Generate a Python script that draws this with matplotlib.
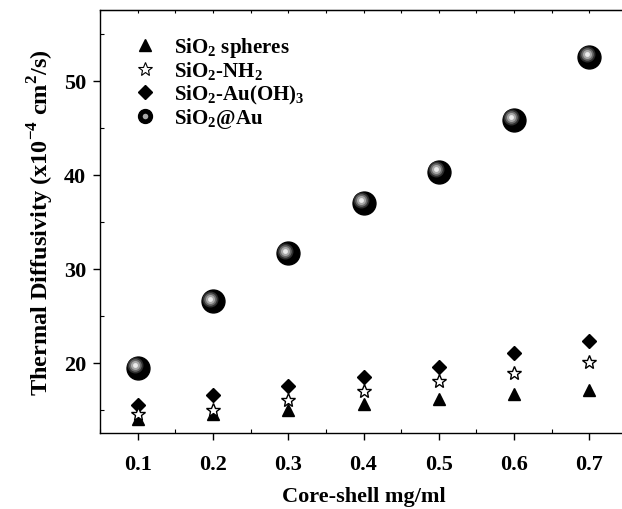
import matplotlib
matplotlib.use('Agg')
import matplotlib.pyplot as plt
import matplotlib.transforms as mtransforms
from matplotlib.ticker import MultipleLocator, FormatStrFormatter
from matplotlib.legend_handler import HandlerTuple
from matplotlib.lines import Line2D

plt.rcParams['font.family'] = 'Liberation Serif'
plt.rcParams['font.weight'] = 'bold'
plt.rcParams['mathtext.fontset'] = 'custom'
plt.rcParams['mathtext.rm'] = 'Liberation Serif:bold'
plt.rcParams['mathtext.bf'] = 'Liberation Serif:bold'

# data
conc = [0.1, 0.2, 0.3, 0.4, 0.5, 0.6, 0.7]
sio2_spheres = [14.0, 14.5, 15.0, 15.6, 16.1, 16.6, 17.1]
sio2_nh2 = [14.5, 15.0, 16.0, 17.0, 18.0, 18.9, 20.1]
sio2_auoh3 = [15.5, 16.5, 17.5, 18.5, 19.5, 21.0, 22.3]
sio2_au = [19.4, 26.5, 31.6, 37.0, 40.3, 45.8, 52.5]

labels = [r'SiO$_2$ spheres', r'SiO$_2$-NH$_2$', r'SiO$_2$-Au(OH)$_3$', r'SiO$_2$@Au']

fig = plt.figure(figsize=(6.22, 5.10), dpi=100)
ax = fig.add_axes([100 / 622, 76 / 510, 527 / 622, 423 / 510])

ax.plot(conc, sio2_spheres, '^', color='black', markersize=9, linestyle='none', zorder=3)
ax.plot(conc, sio2_nh2, '*', markerfacecolor='white', markeredgecolor='black',
        markeredgewidth=1.0, markersize=10, linestyle='none', zorder=4)
ax.plot(conc, sio2_auoh3, 'D', color='black', markersize=7, linestyle='none', zorder=3)

# shiny spheres: black ball with layered highlight
ax.plot(conc, sio2_au, 'o', color='black', markersize=16.5, linestyle='none', zorder=5)
hl = mtransforms.offset_copy(ax.transData, fig=fig, x=-2.0, y=2.0, units='points')
for ms, c, z in [(11.5, '#2e2e2e', 6), (9, '#6a6a6a', 7), (6.5, '#a8a8a8', 8), (3.5, '#ececec', 9)]:
    ax.plot(conc, sio2_au, 'o', color=c, markersize=ms, markeredgewidth=0,
            linestyle='none', transform=hl, zorder=z)

ax.set_xlim(0.05, 0.75)
ax.set_ylim(12.5, 57.5)
ax.xaxis.set_major_locator(MultipleLocator(0.1))
ax.xaxis.set_minor_locator(MultipleLocator(0.05))
ax.yaxis.set_major_locator(MultipleLocator(10))
ax.yaxis.set_minor_locator(MultipleLocator(5))
ax.xaxis.set_major_formatter(FormatStrFormatter('%.1f'))

ax.spines['right'].set_visible(False)
for s in ['left', 'bottom', 'top']:
    ax.spines[s].set_linewidth(1.0)
ax.tick_params(which='major', direction='out', length=5, width=1, labelsize=16)
ax.tick_params(axis='x', which='major', pad=10)
ax.tick_params(axis='y', which='major', pad=5)
ax.tick_params(which='minor', direction='in', length=3, width=0.8)

top = ax.secondary_xaxis('top')
top.xaxis.set_major_locator(MultipleLocator(0.1))
top.xaxis.set_minor_locator(MultipleLocator(0.05))
top.tick_params(which='both', direction='in', length=2.5, width=0.8, labeltop=False)

ax.set_xlabel('Core-shell mg/ml', fontsize=16, fontweight='bold', labelpad=9)
ax.set_ylabel(r'Thermal Diffusivity (x10$^{-4}$ cm$^2$/s)', fontsize=17.5, fontweight='bold', labelpad=6)

# legend handles
h1l = Line2D([], [], marker='^', color='black', markersize=9, linestyle='none')
h2l = Line2D([], [], marker='*', markerfacecolor='white', markeredgecolor='black',
             markeredgewidth=0.8, markersize=10, linestyle='none')
h3l = Line2D([], [], marker='D', color='black', markersize=7, linestyle='none')
sphere_bg = Line2D([], [], marker='o', color='black', markersize=10, linestyle='none')
sphere_hi = Line2D([], [], marker='o', color='#a8a8a8', markersize=4, markeredgewidth=0, linestyle='none')
ax.legend([h1l, h2l, h3l, (sphere_bg, sphere_hi)], labels,
          handler_map={tuple: HandlerTuple(ndivide=1)},
          loc='upper left', bbox_to_anchor=(0.03, 0.985), frameon=False,
          fontsize=15, handlelength=1.0, handletextpad=0.9, labelspacing=0.02)

fig.savefig('out.png', dpi=100)
